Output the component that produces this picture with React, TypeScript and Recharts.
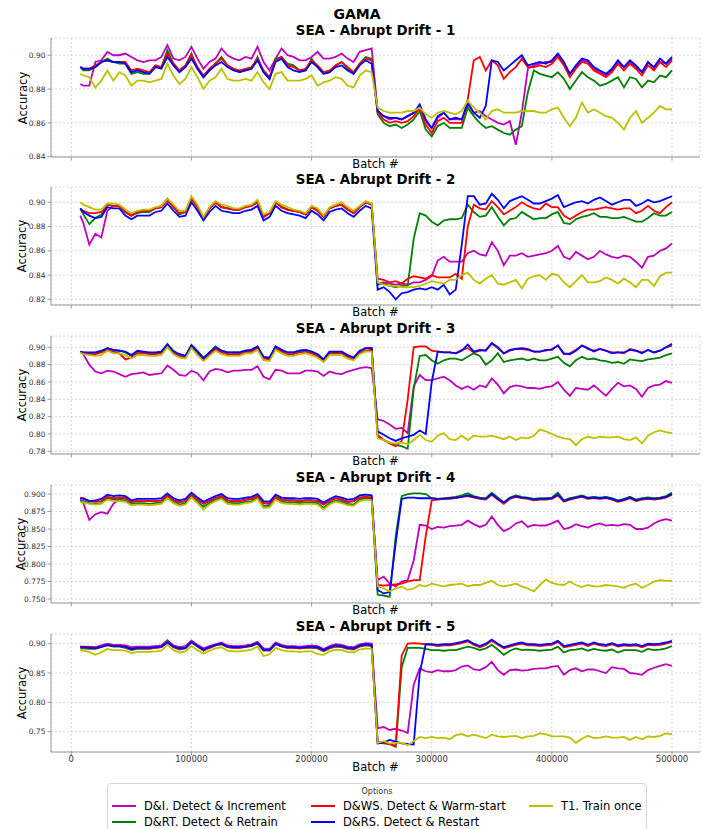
import React from 'react';
import { LineChart, Line, XAxis, YAxis, CartesianGrid } from 'recharts';

const FONT = '"DejaVu Sans", Verdana, sans-serif';

// Batch numbers (x categories)
const BATCH = [
  7500, 10000, 15000, 20000, 25000, 30000, 35000, 40000, 45000, 50000,
  55000, 60000, 65000, 70000, 75000, 80000, 85000, 90000, 95000, 100000,
  105000, 110000, 115000, 120000, 125000, 130000, 135000, 140000, 145000, 150000,
  155000, 160000, 165000, 170000, 175000, 180000, 185000, 190000, 195000, 200000,
  205000, 210000, 215000, 220000, 225000, 230000, 235000, 240000, 245000, 250000,
  255000, 260000, 265000, 270000, 275000, 280000, 285000, 290000, 295000, 300000,
  305000, 310000, 315000, 320000, 325000, 330000, 335000, 340000, 345000, 350000,
  355000, 360000, 365000, 370000, 375000, 380000, 385000, 390000, 395000, 400000,
  405000, 410000, 415000, 420000, 425000, 430000, 435000, 440000, 445000, 450000,
  455000, 460000, 465000, 470000, 475000, 480000, 485000, 490000, 495000, 500000,
];

// Accuracy values in thousandths (e.g. 893 = 0.893)
// ---- Panel 1 ----
const P1_DI = [
  883, 882, 882, 896, 897, 902, 900, 900, 901, 899,
  897, 896, 897, 897, 899, 906, 898, 897, 899, 905,
  898, 892, 896, 898, 904, 900, 898, 897, 899, 898,
  905, 896, 891, 898, 904, 900, 899, 897, 897, 899,
  902, 898, 898, 899, 901, 898, 896, 902, 903, 904,
  867, 864, 862, 863, 862, 864, 866, 870, 861, 857,
  863, 866, 862, 862, 862, 871, 866, 867, 864, 862,
  860, 859, 861, 847, 866, 892, 894, 895, 896, 896,
  900, 895, 889, 893, 897, 896, 892, 890, 888, 891,
  896, 893, 896, 893, 890, 896, 892, 896, 895, 898,
];
const P1_DRT = [
  893, 891, 891, 893, 896, 898, 896, 895, 895, 889,
  890, 889, 889, 893, 893, 903, 895, 891, 894, 901,
  892, 887, 891, 895, 899, 894, 892, 890, 891, 892,
  899, 890, 886, 898, 899, 895, 894, 891, 891, 898,
  893, 889, 890, 894, 896, 892, 889, 895, 899, 898,
  865, 860, 858, 859, 857, 859, 862, 867, 856, 852,
  858, 860, 857, 857, 857, 869, 864, 860, 857, 858,
  856, 854, 853, 856, 858, 878, 891, 889, 888, 887,
  890, 886, 880, 885, 890, 887, 885, 882, 883, 885,
  887, 881, 887, 886, 881, 885, 884, 888, 887, 891,
];
const P1_DWS = [
  893, 892, 892, 894, 896, 897, 896, 896, 896, 891,
  892, 891, 890, 894, 893, 901, 895, 891, 894, 900,
  893, 888, 892, 895, 898, 894, 892, 891, 892, 893,
  898, 891, 887, 897, 899, 894, 893, 891, 892, 897,
  894, 890, 891, 894, 896, 893, 890, 895, 898, 897,
  866, 862, 860, 861, 860, 861, 864, 869, 859, 854,
  861, 863, 860, 860, 860, 874, 897, 899, 891, 897,
  894, 886, 890, 893, 898, 893, 893, 894, 893, 895,
  899, 894, 887, 892, 896, 895, 891, 889, 887, 890,
  895, 891, 895, 892, 888, 894, 891, 896, 893, 897,
];
const P1_DRS = [
  893, 892, 892, 893, 896, 897, 896, 896, 895, 890,
  891, 890, 889, 893, 892, 899, 894, 890, 893, 898,
  892, 887, 891, 894, 896, 893, 891, 890, 891, 892,
  897, 890, 886, 896, 898, 893, 891, 890, 891, 896,
  893, 889, 890, 893, 894, 891, 889, 894, 897, 895,
  867, 864, 863, 863, 862, 864, 866, 871, 862, 857,
  864, 866, 862, 863, 862, 872, 866, 863, 870, 897,
  896, 891, 894, 897, 900, 894, 895, 896, 895, 897,
  901, 896, 889, 894, 898, 897, 893, 891, 889, 892,
  897, 893, 897, 894, 890, 896, 893, 898, 895, 899,
];
const P1_T1 = [
  889, 888, 887, 881, 885, 891, 885, 890, 888, 882,
  885, 885, 884, 885, 886, 895, 888, 883, 886, 893,
  887, 880, 885, 887, 892, 886, 885, 885, 886, 885,
  890, 884, 880, 889, 890, 885, 885, 885, 886, 888,
  882, 884, 885, 887, 886, 882, 881, 888, 891, 890,
  869, 867, 866, 866, 866, 867, 867, 869, 865, 863,
  866, 867, 866, 865, 867, 873, 869, 866, 862, 867,
  868, 866, 866, 866, 867, 867, 867, 866, 866, 868,
  869, 863, 858, 863, 872, 866, 868, 866, 864, 863,
  860, 856, 863, 867, 860, 863, 866, 870, 868, 868,
];

// ---- Panel 2 ----
const P2_DI = [
  889, 883, 865, 874, 871, 893, 897, 897, 892, 889,
  892, 893, 893, 895, 896, 902, 896, 891, 892, 903,
  896, 887, 895, 900, 896, 895, 894, 894, 896, 897,
  900, 888, 891, 900, 896, 894, 893, 892, 890, 896,
  893, 888, 895, 897, 898, 894, 891, 896, 900, 898,
  833, 834, 833, 832, 833, 832, 834, 834, 836, 839,
  852, 855, 851, 851, 851, 858, 860, 857, 856, 867,
  860, 848, 856, 856, 858, 855, 856, 857, 858, 860,
  864, 855, 853, 859, 856, 853, 855, 860, 857, 855,
  854, 856, 855, 851, 846, 855, 856, 860, 862, 866,
];
const P2_DRT = [
  895, 890, 882, 887, 890, 898, 897, 897, 892, 889,
  891, 892, 892, 895, 897, 903, 896, 890, 892, 904,
  896, 887, 895, 900, 896, 895, 894, 894, 897, 897,
  901, 888, 891, 900, 896, 894, 893, 892, 890, 896,
  893, 888, 895, 897, 898, 894, 891, 896, 900, 899,
  832, 833, 831, 830, 831, 831, 870, 891, 889, 884,
  881, 885, 886, 886, 887, 898, 892, 888, 889, 896,
  888, 881, 886, 887, 892, 889, 886, 887, 887, 890,
  892, 883, 882, 886, 888, 889, 891, 888, 888, 887,
  887, 888, 886, 884, 884, 887, 891, 889, 889, 892,
];
const P2_DWS = [
  894, 893, 891, 891, 892, 898, 897, 897, 892, 889,
  892, 893, 893, 895, 896, 902, 896, 891, 892, 903,
  896, 887, 895, 900, 896, 895, 894, 894, 896, 897,
  900, 888, 891, 900, 896, 894, 893, 892, 890, 896,
  893, 888, 895, 897, 898, 894, 891, 896, 900, 898,
  837, 836, 834, 835, 833, 837, 839, 838, 837, 840,
  838, 838, 838, 841, 837, 880, 898, 895, 894, 901,
  896, 890, 893, 896, 900, 897, 895, 894, 899, 896,
  896, 889, 886, 889, 892, 894, 894, 895, 896, 895,
  894, 895, 895, 891, 893, 897, 893, 891, 896, 900,
];
const P2_DRS = [
  895, 892, 889, 887, 888, 896, 895, 895, 889, 886,
  889, 889, 889, 892, 893, 899, 893, 888, 889, 900,
  893, 885, 892, 897, 893, 892, 891, 891, 893, 894,
  897, 885, 888, 897, 893, 891, 890, 889, 887, 893,
  890, 885, 892, 894, 895, 891, 888, 893, 897, 895,
  828, 830, 826, 820, 825, 826, 828, 829, 828, 830,
  828, 832, 824, 828, 865, 905, 905, 898, 899, 907,
  902, 895, 901, 903, 905, 902, 899, 899, 901, 903,
  906, 896, 898, 900, 901, 899, 902, 904, 901, 898,
  900, 902, 902, 897, 899, 902, 900, 901, 903, 905,
];
const P2_T1 = [
  900, 898, 896, 894, 894, 899, 899, 898, 894, 891,
  893, 894, 894, 896, 897, 903, 898, 893, 893, 905,
  898, 888, 896, 901, 898, 897, 895, 895, 897, 898,
  902, 890, 892, 901, 898, 896, 894, 893, 891, 897,
  895, 889, 896, 898, 900, 896, 893, 897, 901, 899,
  834, 832, 831, 831, 830, 830, 830, 831, 833, 835,
  834, 833, 836, 836, 840, 842, 836, 833, 837, 840,
  833, 832, 834, 836, 829, 837, 839, 840, 836, 841,
  840, 834, 830, 835, 840, 834, 834, 835, 838, 836,
  833, 837, 834, 830, 836, 836, 831, 839, 842, 842,
];

// ---- Panel 3 ----
const P3_DI = [
  895, 892, 880, 872, 870, 873, 872, 869, 866, 869,
  870, 871, 868, 869, 870, 879, 874, 868, 867, 873,
  870, 862, 872, 875, 874, 871, 873, 873, 874, 874,
  878, 866, 863, 874, 873, 870, 870, 870, 873, 873,
  872, 867, 872, 870, 869, 872, 874, 876, 877, 876,
  817, 815, 811, 806, 807, 801, 855, 868, 862, 862,
  864, 866, 862, 856, 852, 855, 851, 856, 854, 864,
  857, 847, 854, 856, 855, 853, 853, 852, 854, 855,
  860, 851, 844, 853, 852, 851, 856, 850, 844, 852,
  859, 855, 856, 852, 843, 853, 856, 857, 861, 859,
];
const P3_DRT = [
  894, 894, 893, 893, 895, 899, 897, 896, 894, 890,
  895, 894, 893, 893, 895, 904, 896, 892, 890, 903,
  896, 888, 894, 901, 896, 894, 894, 894, 896, 897,
  901, 888, 888, 901, 897, 894, 894, 896, 897, 895,
  892, 886, 895, 894, 895, 890, 887, 895, 899, 899,
  797, 793, 790, 787, 786, 783, 852, 890, 891, 885,
  881, 885, 887, 887, 885, 889, 893, 890, 880, 885,
  893, 883, 885, 886, 887, 885, 887, 885, 885, 887,
  889, 882, 878, 885, 889, 886, 887, 885, 884, 882,
  883, 881, 886, 885, 884, 886, 887, 888, 891, 893,
];
const P3_DWS = [
  895, 893, 892, 892, 894, 897, 895, 893, 886, 888,
  893, 893, 892, 892, 893, 901, 893, 890, 888, 900,
  893, 885, 892, 898, 894, 892, 892, 892, 894, 895,
  899, 887, 886, 899, 895, 892, 892, 894, 895, 893,
  890, 884, 893, 893, 893, 889, 886, 893, 896, 897,
  799, 793, 789, 786, 792, 840, 900, 901, 901, 896,
  895, 894, 894, 893, 897, 899, 894, 896, 897, 904,
  899, 893, 896, 898, 898, 897, 895, 895, 896, 898,
  902, 892, 893, 897, 902, 898, 896, 898, 896, 894,
  894, 893, 898, 896, 894, 897, 894, 896, 900, 902,
];
const P3_DRS = [
  895, 894, 894, 894, 896, 899, 897, 896, 895, 891,
  896, 895, 894, 894, 895, 903, 895, 892, 890, 902,
  895, 887, 894, 900, 896, 894, 894, 894, 896, 897,
  901, 889, 888, 901, 897, 894, 894, 896, 897, 895,
  892, 886, 895, 895, 895, 891, 888, 896, 899, 899,
  803, 799, 795, 792, 795, 797, 799, 804, 800, 860,
  895, 894, 894, 893, 896, 903, 895, 897, 896, 905,
  900, 893, 897, 898, 899, 898, 895, 895, 897, 897,
  902, 893, 892, 896, 902, 899, 895, 898, 896, 893,
  894, 894, 897, 896, 893, 897, 894, 896, 900, 904,
];
const P3_T1 = [
  894, 892, 891, 890, 891, 896, 893, 893, 891, 887,
  891, 891, 890, 890, 891, 900, 892, 888, 887, 899,
  891, 884, 890, 896, 892, 890, 890, 890, 893, 893,
  897, 885, 884, 897, 893, 890, 890, 892, 893, 891,
  888, 883, 891, 891, 891, 887, 885, 892, 895, 895,
  795, 793, 790, 789, 790, 788, 793, 799, 793, 791,
  798, 801, 794, 793, 798, 793, 798, 797, 797, 798,
  796, 794, 797, 793, 796, 795, 798, 805, 803, 800,
  797, 795, 794, 787, 794, 797, 795, 797, 796, 796,
  797, 794, 793, 796, 789, 798, 802, 804, 802, 801,
];

// ---- Panel 4 ----
const P4_DI = [
  893, 887, 863, 871, 874, 872, 886, 893, 894, 889,
  890, 890, 890, 890, 891, 898, 891, 888, 890, 899,
  892, 886, 890, 894, 897, 891, 890, 890, 892, 893,
  897, 887, 886, 896, 892, 891, 891, 890, 891, 891,
  890, 885, 890, 894, 892, 889, 890, 895, 896, 895,
  777, 782, 772, 768, 775, 777, 805, 856, 855, 850,
  853, 852, 854, 855, 856, 862, 857, 853, 856, 868,
  856, 847, 851, 858, 861, 853, 856, 855, 855, 858,
  862, 850, 852, 857, 854, 852, 856, 858, 855, 856,
  855, 857, 856, 850, 850, 852, 858, 862, 864, 862,
];
const P4_DRT = [
  890, 890, 887, 886, 887, 894, 892, 892, 891, 886,
  887, 887, 886, 887, 888, 896, 889, 885, 887, 897,
  889, 882, 887, 892, 895, 888, 887, 887, 889, 890,
  895, 883, 883, 894, 889, 888, 888, 887, 888, 888,
  887, 880, 887, 891, 889, 886, 885, 892, 894, 893,
  756, 755, 753, 840, 897, 900, 901, 901, 900, 894,
  893, 894, 895, 896, 898, 901, 897, 895, 894, 902,
  895, 888, 895, 898, 896, 895, 893, 894, 894, 895,
  902, 891, 894, 896, 898, 895, 896, 895, 896, 894,
  891, 893, 896, 892, 894, 895, 894, 895, 897, 902,
];
const P4_DWS = [
  895, 894, 890, 889, 890, 896, 894, 895, 894, 889,
  890, 890, 890, 890, 891, 898, 891, 888, 890, 899,
  892, 886, 890, 894, 897, 891, 890, 890, 892, 893,
  897, 887, 886, 896, 892, 891, 891, 890, 891, 891,
  890, 885, 890, 894, 892, 889, 890, 895, 896, 895,
  770, 769, 770, 771, 772, 775, 777, 777, 840, 891,
  892, 893, 893, 894, 896, 897, 895, 893, 892, 899,
  892, 886, 893, 896, 894, 893, 891, 892, 892, 893,
  898, 889, 892, 894, 896, 893, 894, 893, 894, 892,
  889, 891, 894, 890, 892, 893, 892, 893, 895, 899,
];
const P4_DRS = [
  894, 893, 890, 891, 893, 899, 897, 898, 897, 891,
  893, 893, 893, 893, 894, 901, 894, 891, 893, 902,
  895, 889, 893, 897, 900, 894, 893, 893, 895, 896,
  900, 890, 889, 899, 895, 894, 894, 893, 894, 894,
  893, 888, 893, 897, 895, 892, 893, 898, 899, 898,
  763, 758, 760, 830, 893, 895, 895, 894, 894, 894,
  893, 893, 894, 895, 896, 898, 896, 894, 893, 900,
  893, 888, 894, 897, 895, 894, 892, 893, 893, 894,
  899, 890, 893, 895, 897, 894, 895, 894, 895, 893,
  890, 892, 895, 891, 893, 894, 893, 894, 896, 900,
];
const P4_T1 = [
  888, 888, 886, 885, 886, 892, 890, 890, 889, 884,
  885, 885, 884, 885, 886, 894, 887, 883, 885, 895,
  887, 878, 885, 890, 893, 886, 885, 885, 887, 888,
  893, 880, 881, 892, 887, 886, 886, 885, 886, 886,
  885, 878, 885, 889, 887, 884, 883, 890, 892, 891,
  768, 765, 761, 765, 768, 763, 765, 770, 768, 772,
  770, 768, 770, 771, 772, 768, 770, 770, 773, 776,
  770, 768, 770, 772, 768, 765, 761, 770, 778, 773,
  771, 770, 775, 770, 767, 770, 768, 768, 770, 769,
  768, 766, 770, 772, 766, 770, 775, 777, 776, 776,
];

// ---- Panel 5 ----
const P5_DI = [
  895, 895, 895, 894, 897, 900, 898, 898, 897, 894,
  895, 895, 895, 896, 897, 906, 897, 894, 896, 905,
  898, 892, 896, 899, 902, 897, 896, 896, 897, 899,
  903, 892, 891, 902, 898, 896, 896, 895, 896, 897,
  896, 891, 896, 899, 898, 895, 894, 899, 901, 900,
  756, 758, 753, 755, 752, 748, 830, 858, 853, 851,
  855, 853, 853, 855, 861, 863, 856, 855, 860, 869,
  855, 847, 855, 856, 854, 855, 857, 858, 858, 861,
  862, 847, 855, 858, 853, 856, 856, 853, 850, 860,
  858, 857, 850, 849, 847, 855, 859, 862, 865, 862,
];
const P5_DRT = [
  892, 892, 891, 891, 894, 897, 895, 895, 893, 889,
  891, 891, 891, 893, 894, 904, 894, 890, 892, 902,
  895, 888, 893, 897, 899, 894, 893, 893, 894, 896,
  900, 888, 888, 899, 895, 893, 893, 892, 893, 893,
  892, 887, 892, 895, 894, 891, 890, 895, 897, 896,
  731, 730, 729, 724, 860, 893, 893, 893, 891, 889,
  889, 888, 889, 889, 892, 895, 893, 889, 892, 898,
  890, 881, 888, 892, 889, 890, 889, 888, 889, 890,
  895, 885, 889, 890, 892, 888, 891, 889, 888, 890,
  885, 889, 889, 889, 886, 891, 889, 890, 892, 896,
];
const P5_DWS = [
  894, 893, 894, 893, 895, 898, 896, 896, 894, 891,
  893, 892, 892, 893, 894, 902, 895, 891, 893, 903,
  896, 889, 893, 897, 900, 894, 893, 893, 895, 897,
  901, 889, 889, 900, 896, 893, 893, 892, 893, 894,
  893, 888, 893, 896, 895, 892, 891, 896, 898, 897,
  733, 731, 729, 726, 880, 900, 901, 900, 899, 898,
  896, 897, 897, 899, 901, 904, 898, 894, 898, 905,
  898, 892, 895, 898, 900, 897, 897, 896, 897, 898,
  903, 894, 896, 898, 900, 896, 900, 897, 896, 899,
  895, 897, 896, 897, 894, 898, 897, 898, 900, 903,
];
const P5_DRS = [
  895, 894, 893, 892, 895, 898, 896, 896, 895, 891,
  893, 893, 893, 894, 895, 902, 895, 892, 893, 903,
  896, 890, 894, 898, 900, 895, 894, 894, 895, 897,
  901, 890, 889, 900, 896, 894, 894, 893, 894, 895,
  894, 889, 894, 897, 896, 893, 892, 897, 899, 898,
  730, 732, 736, 733, 730, 729, 728, 850, 899, 899,
  898, 899, 899, 901, 903, 906, 900, 896, 900, 907,
  900, 894, 897, 900, 902, 899, 899, 898, 899, 900,
  905, 896, 898, 900, 902, 898, 902, 899, 898, 901,
  897, 899, 898, 899, 896, 900, 899, 900, 902, 905,
];
const P5_T1 = [
  889, 888, 886, 881, 885, 891, 889, 889, 888, 884,
  886, 886, 886, 887, 888, 898, 889, 885, 887, 896,
  889, 883, 888, 892, 894, 888, 887, 887, 888, 890,
  895, 879, 882, 893, 889, 887, 887, 886, 887, 887,
  882, 881, 887, 890, 889, 886, 885, 890, 892, 891,
  731, 734, 730, 731, 731, 727, 734, 741, 739, 741,
  739, 740, 737, 744, 746, 742, 745, 742, 739, 745,
  742, 741, 742, 743, 739, 742, 743, 747, 746, 742,
  742, 742, 740, 731, 738, 743, 739, 740, 742, 740,
  740, 741, 736, 741, 737, 742, 741, 743, 747, 746,
];

const SERIES_META = [
  { key: 'di', name: 'D&I. Detect & Increment', color: '#bf00bf' },
  { key: 'drt', name: 'D&RT. Detect & Retrain', color: '#008000' },
  { key: 'dws', name: 'D&WS. Detect & Warm-start', color: '#ff0000' },
  { key: 'drs', name: 'D&RS. Detect & Restart', color: '#0000ff' },
  { key: 't1', name: 'T1. Train once', color: '#bfbf00' },
];

const X_TICKS = [0, 100000, 200000, 300000, 400000, 500000];
const X_DOMAIN: [number, number] = [-16900, 523300];

const PANELS = [
  { title: 'SEA - Abrupt Drift - 1', top: 38, bottom: 157, domain: [0.8398, 0.9102], ticks: [0.84, 0.86, 0.88, 0.9], dec: 2, labelX: 22, data: [P1_DI, P1_DRT, P1_DWS, P1_DRS, P1_T1] },
  { title: 'SEA - Abrupt Drift - 2', top: 187, bottom: 305, domain: [0.8153, 0.9126], ticks: [0.82, 0.84, 0.86, 0.88, 0.9], dec: 2, labelX: 22, data: [P2_DI, P2_DRT, P2_DWS, P2_DRS, P2_T1] },
  { title: 'SEA - Abrupt Drift - 3', top: 336, bottom: 454, domain: [0.7769, 0.913], ticks: [0.78, 0.8, 0.82, 0.84, 0.86, 0.88, 0.9], dec: 2, labelX: 22, data: [P3_DI, P3_DRT, P3_DWS, P3_DRS, P3_T1] },
  { title: 'SEA - Abrupt Drift - 4', top: 485, bottom: 603, domain: [0.7443, 0.9129], ticks: [0.75, 0.775, 0.8, 0.825, 0.85, 0.875, 0.9], dec: 3, labelX: 20.5, data: [P4_DI, P4_DRT, P4_DWS, P4_DRS, P4_T1] },
  { title: 'SEA - Abrupt Drift - 5', top: 634, bottom: 752, domain: [0.7154, 0.9165], ticks: [0.75, 0.8, 0.85, 0.9], dec: 2, labelX: 22, data: [P5_DI, P5_DRT, P5_DWS, P5_DRS, P5_T1] },
];

const FRAME = '#9a9a9a';
const MT = 10;
const XH = 30;

function Panel({ p, last }: { p: any; last: boolean }) {
  const rows = BATCH.map((b, i) => {
    const r: any = { batch: b };
    SERIES_META.forEach((s, j) => {
      r[s.key] = p.data[j][i] / 1000;
    });
    return r;
  });
  const plotH = p.bottom - p.top;
  const cy = p.top + plotH / 2;
  const plotCx = (51 + 700) / 2;
  return (
    <>
      <div
        style={{
          position: 'absolute', left: 51, width: 649, top: p.top - 7 - 9, height: 18,
          lineHeight: '18px', textAlign: 'center', fontWeight: 'bold', fontSize: 13.4,
          fontFamily: FONT, color: '#000', whiteSpace: 'nowrap',
        }}
      >
        {p.title}
      </div>
      <div style={{ position: 'absolute', left: 0, top: p.top - MT }}>
        <LineChart width={703} height={plotH + MT + XH} data={rows} margin={{ top: MT, right: 3, bottom: 0, left: 1 }}>
          <CartesianGrid stroke="#cccccc" strokeDasharray="2 2" strokeWidth={0.8} />
          <XAxis
            dataKey="batch" type="number" domain={X_DOMAIN} ticks={X_TICKS} allowDataOverflow
            height={XH} stroke={FRAME} tickSize={3.5} tickMargin={0} interval={0}
            tick={{ fontSize: 8.5, fill: '#333', fontFamily: FONT }}
            tickFormatter={last ? (v: number) => String(v) : () => ''}
          />
          <XAxis
            xAxisId="top" orientation="top" dataKey="batch" type="number" domain={X_DOMAIN}
            allowDataOverflow height={0} tick={false} tickLine={false} stroke={FRAME}
          />
          <YAxis
            type="number" domain={p.domain} ticks={p.ticks} allowDataOverflow width={50}
            stroke={FRAME} tickSize={3.5} tickMargin={2} interval={0}
            tick={{ fontSize: 7.5, fill: '#333', fontFamily: FONT }}
            tickFormatter={(v: number) => v.toFixed(p.dec)}
          />
          <YAxis
            yAxisId="right" orientation="right" type="number" domain={p.domain} allowDataOverflow
            width={0} tick={false} tickLine={false} stroke={FRAME}
          />
          {SERIES_META.map((s) => (
            <Line
              key={s.key} dataKey={s.key} stroke={s.color} strokeWidth={1.8} dot={false}
              isAnimationActive={false} type="linear"
            />
          ))}
        </LineChart>
      </div>
      <div
        style={{
          position: 'absolute', left: p.labelX - plotH / 2, width: plotH, top: cy - 7, height: 14,
          lineHeight: '14px', textAlign: 'center', fontSize: 11.5, fontFamily: FONT,
          transform: 'rotate(-90deg)', color: '#000', whiteSpace: 'nowrap',
        }}
      >
        Accuracy
      </div>
      <div
        style={{
          position: 'absolute', left: plotCx - 60, width: 120, top: (last ? 767 : p.bottom + 6.5) - 7,
          height: 14, lineHeight: '14px', textAlign: 'center', fontSize: 11.5, fontFamily: FONT, color: '#000',
        }}
      >
        Batch #
      </div>
    </>
  );
}

const LEGEND_COL_HANDLE = [112, 311, 529];
const LEGEND_ROW_Y = [806, 822];

export default function App() {
  return (
    <div
      style={{
        position: 'absolute', left: 0, top: 0, width: 703, height: 829, overflow: 'hidden',
        background: '#fff', fontFamily: FONT,
      }}
    >
      <div
        style={{
          position: 'absolute', left: 257, width: 200, top: 5, height: 18, lineHeight: '18px',
          textAlign: 'center', fontWeight: 'bold', fontSize: 14, color: '#000',
        }}
      >
        GAMA
      </div>
      {PANELS.map((p, i) => (
        <Panel key={p.title} p={p} last={i === PANELS.length - 1} />
      ))}
      <div
        style={{
          position: 'absolute', left: 107, top: 783, width: 540, height: 60, boxSizing: 'border-box',
          border: '1px solid #d6d6d6', borderRadius: 4, background: '#fff',
        }}
      />
      <div
        style={{
          position: 'absolute', left: 327, width: 100, top: 787, height: 10, lineHeight: '10px',
          textAlign: 'center', fontSize: 8, color: '#333',
        }}
      >
        Options
      </div>
      {SERIES_META.map((s, i) => {
        const col = Math.floor(i / 2);
        const row = i % 2;
        const hx = LEGEND_COL_HANDLE[col];
        const y = LEGEND_ROW_Y[row];
        return (
          <React.Fragment key={s.key}>
            <div style={{ position: 'absolute', left: hx, top: y - 1, width: 24, height: 2, background: s.color }} />
            <div
              style={{
                position: 'absolute', left: hx + 32, top: y - 8, height: 16, lineHeight: '16px',
                fontSize: 11.5, color: '#000', whiteSpace: 'nowrap',
              }}
            >
              {s.name}
            </div>
          </React.Fragment>
        );
      })}
    </div>
  );
}
